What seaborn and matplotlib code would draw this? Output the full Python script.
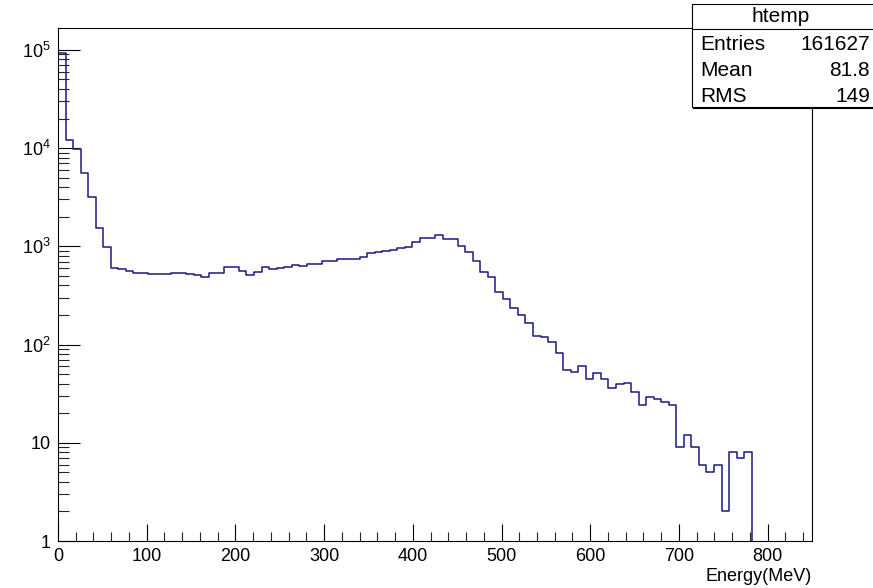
import numpy as np
import pandas as pd
import matplotlib
matplotlib.use("Agg")
import matplotlib.pyplot as plt
import seaborn as sns
from matplotlib.patches import Rectangle
from matplotlib.lines import Line2D
from matplotlib.ticker import (FixedLocator, FixedFormatter, MultipleLocator,
                               LogLocator, NullFormatter)

# Histogram binning (100 bins over 0-850 MeV)
bin_lo = 0.0
bin_hi = 850.0
n_bins = 100

# Bin contents, bin 0 first
counts = [
    92000, 12200, 9700, 5600, 3150, 1530, 975, 598, 589, 566,
    540, 535, 523, 520, 520, 540, 540, 521, 512, 484,
    540, 540, 610, 610, 556, 512, 548, 610, 588, 600,
    615, 646, 631, 665, 668, 705, 705, 739, 739, 745,
    785, 851, 872, 898, 919, 956, 993, 1100, 1220, 1228,
    1307, 1190, 1190, 1017, 883, 715, 552, 484, 342, 291,
    236, 198, 165, 123, 119, 106, 82, 55, 53, 60,
    45, 51, 45, 36, 40, 41, 33, 24, 29, 28,
    26, 24, 9, 12, 9, 6, 5, 6, 2, 8,
    7, 8, 0, 0, 0, 0, 0, 0, 0, 0,
]

# Axis ticks
x_major_step = 100
x_minor_step = 20
y_tick_values = [1, 10, 1e2, 1e3, 1e4, 1e5]
y_tick_labels = ["1", "10", r"$\mathregular{10^{2}}$", r"$\mathregular{10^{3}}$",
                 r"$\mathregular{10^{4}}$", r"$\mathregular{10^{5}}$"]
x_title = "Energy(MeV)"

# Statistics box
stats_title = "htemp"
stats_names = ["Entries", "Mean", "RMS"]
stats_values = ["161627", "81.8", "149"]

line_color = "#1a1a80"

sns.set_theme(style="white")
plt.rcParams["font.family"] = ["Liberation Sans", "DejaVu Sans"]
plt.rcParams["mathtext.fontset"] = "custom"
plt.rcParams["mathtext.rm"] = "Liberation Sans"

edges = np.linspace(bin_lo, bin_hi, n_bins + 1)
centers = 0.5 * (edges[:-1] + edges[1:])
df = pd.DataFrame({"energy": centers, "entries": counts})

W, H = 873, 588
fig = plt.figure(figsize=(W / 100, H / 100), dpi=100)
fig.patch.set_facecolor("white")
ax = fig.add_axes([58 / W, 1 - 541 / H, (812 - 58) / W, (541 - 28) / H])

sns.histplot(data=df, x="energy", weights="entries", bins=n_bins,
             binrange=(bin_lo, bin_hi), element="step", fill=False,
             color=line_color, linewidth=1.1, ax=ax)
ax.set_yscale("log")

ax.set_xlim(bin_lo, bin_hi)
ax.set_ylim(1, 1.67e5)

ax.xaxis.set_major_locator(MultipleLocator(x_major_step))
ax.xaxis.set_minor_locator(MultipleLocator(x_minor_step))
ax.yaxis.set_major_locator(FixedLocator(y_tick_values))
ax.yaxis.set_major_formatter(FixedFormatter(y_tick_labels))
ax.yaxis.set_minor_locator(LogLocator(base=10, subs=np.arange(2, 10)))
ax.yaxis.set_minor_formatter(NullFormatter())

ax.tick_params(axis="x", which="major", direction="in", length=12, width=0.8,
               bottom=True, top=False, labelsize=13, pad=5, colors="black")
ax.tick_params(axis="x", which="minor", direction="in", length=6.5, width=0.8,
               bottom=True, top=False)
ax.tick_params(axis="y", which="major", direction="in", length=16, width=0.8,
               left=True, right=False, labelsize=13, pad=5.5, colors="black")
ax.tick_params(axis="y", which="minor", direction="in", length=8, width=0.8,
               left=True, right=False)

for spine in ax.spines.values():
    spine.set_visible(True)
    spine.set_color("black")
    spine.set_linewidth(0.8)
ax.grid(False)
ax.set_facecolor("white")

ax.set_ylabel("")
ax.set_xlabel(x_title, loc="right", fontsize=13, labelpad=2, color="black")

# Statistics box in the top-right corner
bx0, bx1, by0, by1 = 692, 880, 4, 107
box = Rectangle((bx0 / W, 1 - by1 / H), (bx1 - bx0) / W, (by1 - by0) / H,
                transform=fig.transFigure, facecolor="white",
                edgecolor="black", linewidth=0.8, zorder=5)
fig.patches.append(box)
fig.lines.append(Line2D([bx0 / W, 1.0], [1 - 29 / H] * 2,
                        transform=fig.transFigure, color="black",
                        linewidth=0.8, zorder=6))
fig.lines.append(Line2D([(bx0 + 1) / W, 1.0], [1 - (by1 + 1) / H] * 2,
                        transform=fig.transFigure, color="black",
                        linewidth=0.8, zorder=6))

fig.text((bx0 + 870) / 2 / W, 1 - 17 / H, stats_title, ha="center",
         va="center", fontsize=15, color="black", zorder=7)
row_y = [45, 71, 96]
for name, value, yy in zip(stats_names, stats_values, row_y):
    fig.text(700 / W, 1 - yy / H, name, ha="left", va="center",
             fontsize=15, color="black", zorder=7)
    fig.text(870 / W, 1 - yy / H, value, ha="right", va="center",
             fontsize=15, color="black", zorder=7)

fig.savefig("out.png", dpi=100, facecolor="white")
